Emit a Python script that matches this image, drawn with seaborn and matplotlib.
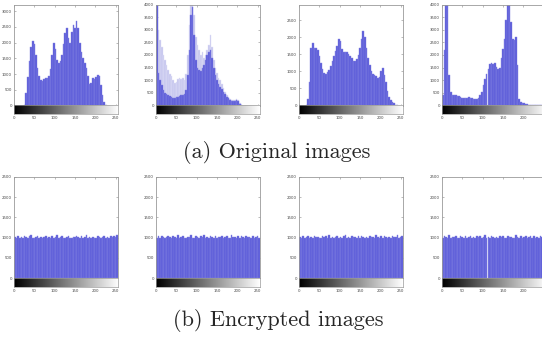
import numpy as np
import pandas as pd
import matplotlib
matplotlib.use("Agg")
import matplotlib.pyplot as plt
import seaborn as sns

# gray levels (centre of each 4-level bin) and counts
levels = list(range(2, 256, 4))

orig_1 = [0, 0, 0, 0, 0, 0, 20, 400,
          900, 1400, 1850, 2050, 1950, 1600, 1200, 950,
          820, 790, 830, 860, 880, 950, 1150, 1600,
          2000, 1800, 1450, 1350, 1400, 1600, 1950, 2300,
          2450, 2150, 2000, 2350, 2550, 2450, 2680, 2450,
          2000, 1700, 1500, 1350, 1200, 950, 680, 700,
          880, 850, 900, 980, 950, 650, 320, 120,
          20, 0, 0, 0, 0, 0, 0, 0]

orig_2_peak = [4000, 3000, 2600, 2300, 2000, 1800, 1600, 1400,
               1250, 1150, 1000, 900, 950, 1050, 1100, 1050,
               1100, 1000, 1250, 2000, 3200, 4000, 4000, 3600,
               2700, 2400, 2200, 2000, 2100, 1900, 2000, 2200,
               2400, 2800, 2300, 1800, 1500, 1300, 1100, 1000,
               850, 700, 550, 420, 330, 270, 220, 200,
               220, 250, 200, 80, 10, 0, 0, 0,
               0, 0, 0, 0, 0, 0, 0, 0]

orig_2 = [4000, 1300, 1000, 800, 600, 500, 450, 400,
          380, 350, 300, 300, 320, 350, 380, 400,
          420, 450, 600, 1200, 2200, 3600, 3900, 2800,
          1800, 1500, 1400, 1350, 1500, 1600, 1800, 2000,
          2100, 2200, 1900, 1500, 1200, 1000, 850, 750,
          650, 550, 450, 350, 280, 230, 190, 170,
          190, 210, 170, 60, 5, 0, 0, 0,
          0, 0, 0, 0, 0, 0, 0, 0]

orig_3 = [0, 0, 0, 0, 20, 200, 700, 1700,
          1850, 1700, 1680, 1620, 1450, 1250, 1080, 970,
          940, 980, 1050, 1150, 1300, 1450, 1600, 1750,
          1950, 1900, 1650, 1560, 1580, 1570, 1520, 1470,
          1400, 1320, 1300, 1380, 1480, 1680, 1950, 2180,
          2000, 1700, 1400, 1200, 1000, 920, 900, 860,
          800, 830, 1020, 1100, 900, 700, 420, 260,
          170, 100, 60, 25, 5, 0, 0, 0]

orig_4 = [400, 2200, 4000, 4000, 1200, 520, 430, 410,
          400, 380, 360, 340, 310, 300, 300, 310,
          320, 310, 290, 270, 260, 270, 300, 420,
          550, 800, 1050, 1250, 1450, 1650, 1700, 1650,
          1700, 1520, 1450, 1500, 1900, 2250, 2650, 3400,
          4000, 4000, 3300, 2650, 2600, 2700, 1600, 250,
          140, 110, 80, 60, 40, 30, 25, 20,
          20, 18, 15, 15, 15, 15, 15, 15]

enc_1 = [1010, 990, 1040, 1000, 1020, 985, 1050, 1005,
         995, 1030, 1060, 1000, 990, 1015, 1040, 1000,
         1020, 980, 1005, 1035, 1000, 1010, 990, 1045,
         1000, 1025, 1060, 995, 1010, 1030, 1000, 985,
         1015, 1050, 1000, 990, 1020, 1005, 1040, 1010,
         995, 1030, 1000, 1015, 1055, 990, 1010, 1000,
         1025, 1000, 985, 1040, 1010, 995, 1020, 1050,
         1000, 1015, 990, 1030, 1005, 1045, 1010, 1060]

enc_2 = [1000, 1030, 995, 1045, 1010, 990, 1020, 1050,
         1005, 985, 1035, 1015, 1000, 1060, 995, 1020,
         1040, 1000, 990, 1025, 1010, 1055, 1000, 985,
         1030, 1015, 995, 1040, 1005, 1065, 1000, 1020,
         990, 1035, 1010, 1000, 1050, 985, 1025, 1005,
         1045, 995, 1015, 1030, 1000, 990, 1060, 1010,
         1020, 1000, 1040, 995, 1050, 1010, 985, 1030,
         1005, 1025, 1000, 1045, 990, 1015, 1035, 1000]

enc_3 = [1020, 1000, 1045, 990, 1010, 1035, 1000, 1015,
         985, 1050, 1005, 1025, 1000, 990, 1040, 1010,
         1030, 995, 1055, 1000, 1015, 985, 1020, 1040,
         1000, 1010, 990, 1035, 1060, 1000, 1020, 995,
         1045, 1005, 1015, 990, 1030, 1000, 1050, 1010,
         985, 1025, 1000, 1040, 1005, 1020, 995, 1055,
         1010, 1000, 1030, 985, 1045, 1015, 1000, 1025,
         990, 1040, 1005, 1020, 1060, 995, 1010, 1030]

enc_4 = [995, 1040, 1010, 1000, 1055, 990, 1025, 1005,
         1030, 1000, 985, 1045, 1015, 1000, 1035, 990,
         1010, 1050, 1000, 1020, 995, 1040, 1005, 1030,
         985, 1015, 1060, 1000, 1025, 990, 1045, 1010,
         1000, 1020, 995, 1050, 1005, 1030, 1000, 985,
         1040, 1010, 1025, 995, 1000, 1055, 1015, 990,
         1035, 1000, 1020, 1045, 990, 1010, 1030, 1000,
         1050, 995, 1015, 1000, 1040, 1025, 985, 1010]

x_ticks = [0, 50, 100, 150, 200, 250]

panels_top = [
    (orig_1, None, 3210, [0, 500, 1000, 1500, 2000, 2500, 3000]),
    (orig_2, orig_2_peak, 4000, [0, 500, 1000, 1500, 2000, 2500, 3000, 3500, 4000]),
    (orig_3, None, 2970, [0, 500, 1000, 1500, 2000, 2500]),
    (orig_4, None, 4000, [0, 500, 1000, 1500, 2000, 2500, 3000, 3500, 4000]),
]
panels_bot = [(e, None, 2500, [0, 500, 1000, 1500, 2000, 2500])
              for e in (enc_1, enc_2, enc_3, enc_4)]

BAR = "#5a5ad8"
STRIPE = "#8484e2"
LIGHT = "#c4c4ee"

sns.set_style("white")

W, H = 542, 340
fig = plt.figure(figsize=(W / 100, H / 100), dpi=100)


def rect(x0, x1, ytop, ybot):
    return [x0 / W, 1 - ybot / H, (x1 - x0) / W, (ybot - ytop) / H]


def draw_panel(x0, ytop, ybot, gbot, counts, peak, ymax, yticks, clipped=False):
    ax = fig.add_axes(rect(x0, x0 + 104, ytop, ybot))
    if peak is not None:
        dfp = pd.DataFrame({"level": levels, "count": peak})
        sns.histplot(data=dfp, x="level", weights="count", binwidth=4,
                     binrange=(0, 256), color=LIGHT, edgecolor="#e2e2f6",
                     linewidth=0.3, alpha=1, ax=ax)
    df = pd.DataFrame({"level": levels, "count": counts})
    sns.histplot(data=df, x="level", weights="count", binwidth=4,
                 binrange=(0, 256), color=BAR, edgecolor=STRIPE,
                 linewidth=0.3, alpha=1, ax=ax)
    ax.set_xlim(0, 256)
    ax.set_ylim(0, ymax)
    ax.set_xticks(x_ticks)
    ax.set_xticklabels([])
    ax.set_yticks(yticks)
    ax.set_yticklabels([str(t) for t in yticks])
    ax.set_xlabel("")
    ax.set_ylabel("")
    ax.tick_params(direction="in", length=1.5, width=0.4, colors="#888888",
                   labelsize=2.8, labelcolor="#444444", pad=1.5,
                   top=True, right=True, left=True, bottom=True)
    for s in ax.spines.values():
        s.set_color("#9a9a9a")
        s.set_linewidth(0.6)

    # gray-level colour strip under the histogram
    ag = fig.add_axes(rect(x0, x0 + 104, ybot, gbot))
    ag.imshow(np.linspace(0, 1, 256)[None, :], cmap="gray", aspect="auto",
              extent=(0, 256, 0, 1))
    ag.set_xlim(0, 256)
    ag.set_yticks([])
    ag.set_xticks(x_ticks)
    # the right-hand panels run past the page edge, so their last label is not shown
    labels = [str(t) for t in x_ticks]
    if clipped:
        labels[-1] = ""
    ag.set_xticklabels(labels)
    ag.tick_params(direction="in", length=1.2, width=0.4, colors="#888888",
                   labelsize=2.8, labelcolor="#444444", pad=1.5)
    for s in ag.spines.values():
        s.set_color("#9a9a9a")
        s.set_linewidth(0.5)


cols = [14, 156, 299, 442]
for i, (x0, p) in enumerate(zip(cols, panels_top)):
    draw_panel(x0, 4.5, 105.5, 114, *p, clipped=(i == 3))
for i, (x0, p) in enumerate(zip(cols, panels_bot)):
    draw_panel(x0, 177, 278, 287, *p, clipped=(i == 3))

fig.text(277 / W, 1 - 153 / H, "(a) Original images", ha="center", va="center",
         fontsize=16, family="cmr10")
fig.text(278 / W, 1 - 321 / H, "(b) Encrypted images", ha="center", va="center",
         fontsize=16, family="cmr10")

fig.savefig("out.png", dpi=100)
